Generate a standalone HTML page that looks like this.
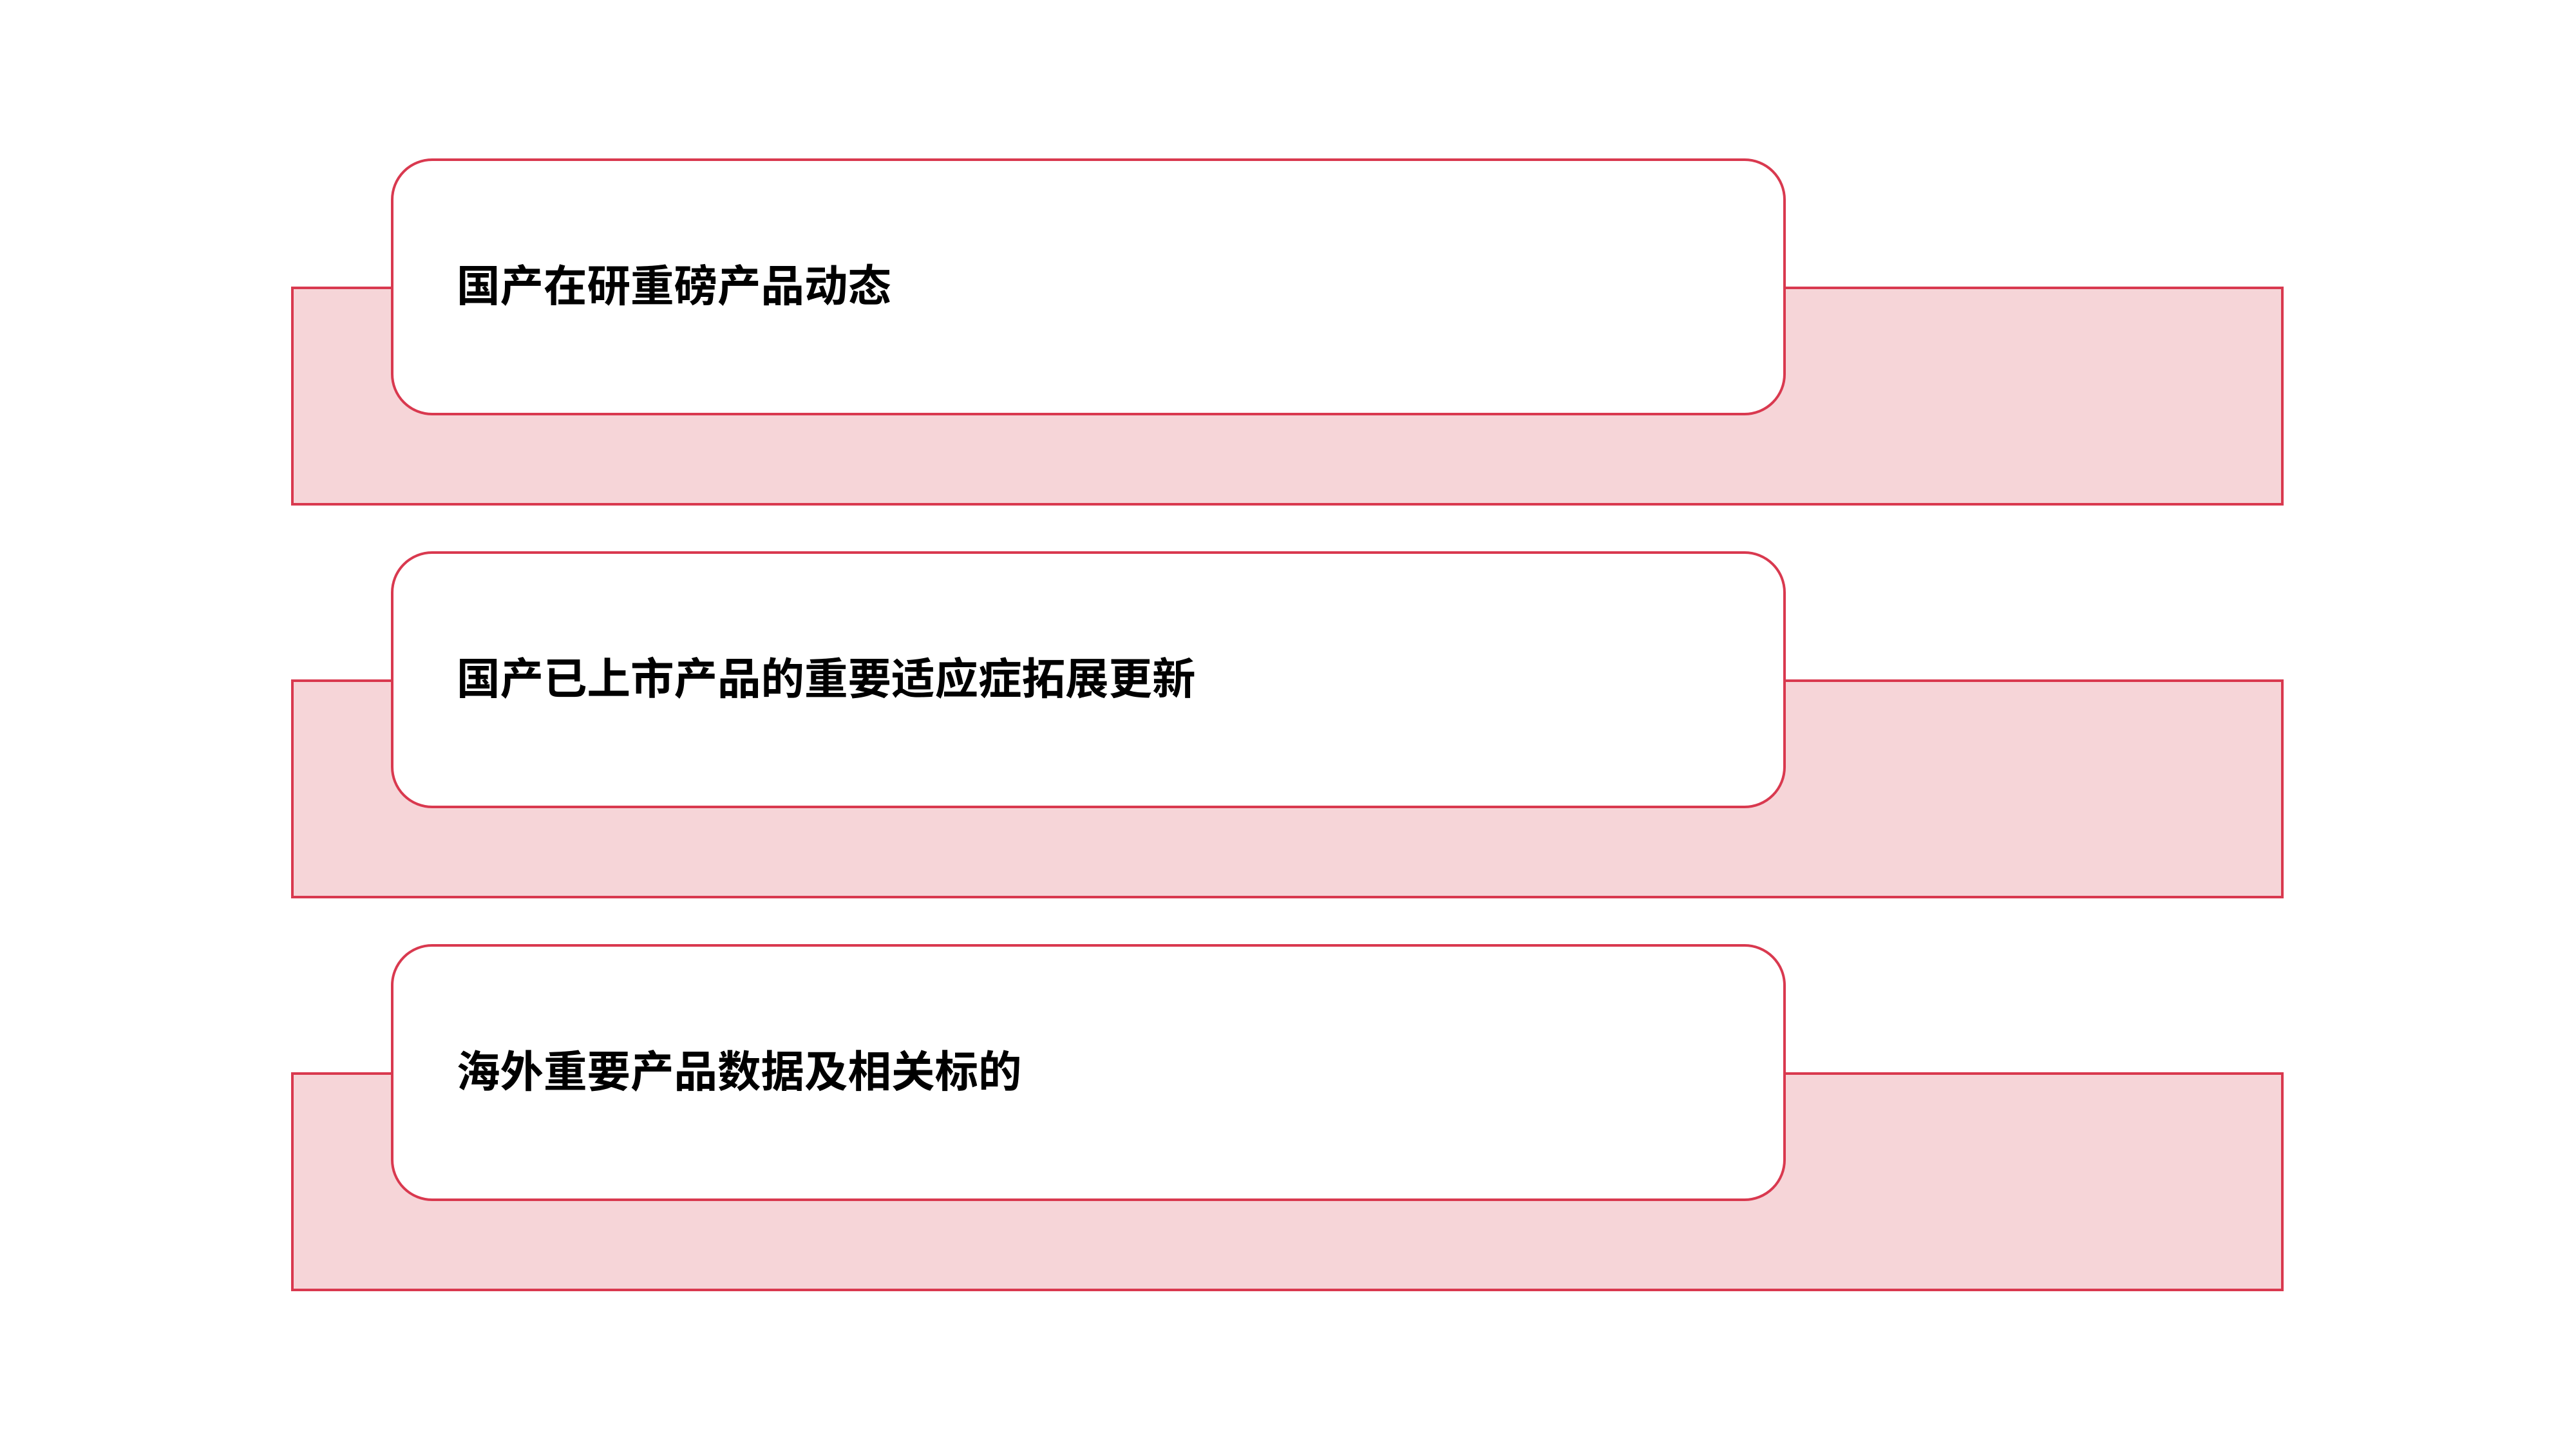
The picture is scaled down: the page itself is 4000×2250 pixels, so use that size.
<!DOCTYPE html>
<html><head><meta charset="utf-8"><style>
html,body{margin:0;padding:0;background:#fff;}
body{width:4000px;height:2250px;position:relative;overflow:hidden;font-family:"Liberation Sans","Noto Sans CJK SC",sans-serif;}
.bg{position:absolute;left:452px;width:3094px;height:340px;background:#f6d5d8;border:4px solid #d9394f;box-sizing:border-box;}
.card{position:absolute;left:607px;width:2166px;height:399px;background:#fff;border:4px solid #d9394f;box-sizing:border-box;border-radius:64px;}
.t{position:absolute;left:709px;font-size:67.5px;font-weight:bold;color:#000;line-height:80px;white-space:nowrap;}
</style></head><body>
<div class="bg" style="top:445px"></div>
<div class="card" style="top:246px"></div>
<div class="t" style="top:406px">国产在研重磅产品动态</div>
<div class="bg" style="top:1055px"></div>
<div class="card" style="top:856px"></div>
<div class="t" style="top:1016px">国产已上市产品的重要适应症拓展更新</div>
<div class="bg" style="top:1665px"></div>
<div class="card" style="top:1466px"></div>
<div class="t" style="top:1626px">海外重要产品数据及相关标的</div>
</body></html>
